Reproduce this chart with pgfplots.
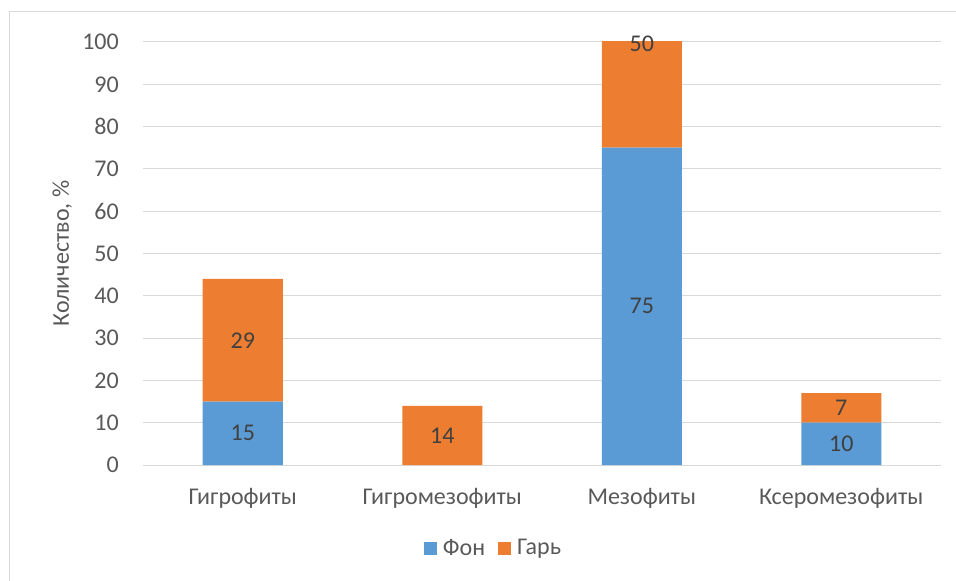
\documentclass[border=0pt]{standalone}
\usepackage{fontspec}
\setmainfont{Carlito}
\usepackage{pgfplots}
\pgfplotsset{compat=1.18}
\definecolor{fon}{HTML}{5B9BD5}
\definecolor{gar}{HTML}{ED7D31}
\definecolor{gridc}{HTML}{D9D9D9}
\definecolor{txt}{HTML}{595959}
\definecolor{lbl}{HTML}{404040}
\begin{document}
\begin{tikzpicture}[x=1pt,y=1pt]
\path[use as bounding box] (-143,-116) rectangle (813,465);
\draw[gridc, line width=1pt] (-133,-116) -- (-133,453) -- (813,453);
\begin{axis}[
  at={(0,0)}, anchor=south west,
  width=798pt, height=423pt, scale only axis,
  ybar stacked, bar width=80pt,
  xmin=-0.5, xmax=3.5, ymin=0, ymax=100,
  xtick={0,1,2,3},
  xticklabels={Гигрофиты,Гигромезофиты,Мезофиты,Ксеромезофиты},
  ytick={0,10,...,100},
  ymajorgrids, grid style={gridc, line width=1pt},
  axis line style={draw=none},
  major tick style={draw=none},
  /pgf/number format/assume math mode=true,
  ticklabel style={font=\fontsize{24}{28}\selectfont, text=txt},
  yticklabel style={inner sep=0pt, anchor=east, xshift=-24pt},
  xticklabel style={inner sep=0pt, anchor=base, yshift=-39pt},
  ylabel={Количество, \%},
  ylabel style={font=\fontsize{24}{28}\selectfont, text=txt, at={([xshift=-74pt]axis description cs:0,0.5)}, anchor=base, rotate=0},
  legend columns=2,
  legend style={at={([xshift=351pt,yshift=-83pt]axis description cs:0,0)}, anchor=center, draw=none, fill=none,
    font=\fontsize{24}{28}\selectfont, text=txt,
    nodes={inner xsep=3pt},
    /tikz/every odd column/.append style={column sep=3pt},
    /tikz/every even column/.append style={column sep=10pt},
    cells={anchor=west}},
  legend image code/.code={\path[#1,draw=none] (0pt,-6.5pt) rectangle (13pt,6.5pt);},
]
\addplot[fill=fon, draw=none] coordinates {(0,15) (1,0) (2,75) (3,10)};
\addplot[fill=gar, draw=none] coordinates {(0,29) (1,14) (2,50) (3,7)};
\legend{Фон,Гарь}
\end{axis}
\begin{axis}[
  at={(0,0)}, anchor=south west,
  width=798pt, height=423pt, scale only axis,
  xmin=-0.5, xmax=3.5, ymin=0, ymax=100,
  hide axis, clip=false,
  nodes near coords, point meta=explicit symbolic,
  every node near coord/.append style={anchor=center, inner sep=0pt, font=\fontsize{24}{28}\selectfont, text=lbl},
]
\addplot[only marks, mark=none] coordinates {
  (0,7.5) [15] (0,29.5) [29]
  (1,7) [14]
  (2,37.5) [75] (2,99.5) [50]
  (3,5) [10] (3,13.5) [7]
};
\end{axis}
\end{tikzpicture}
\end{document}
